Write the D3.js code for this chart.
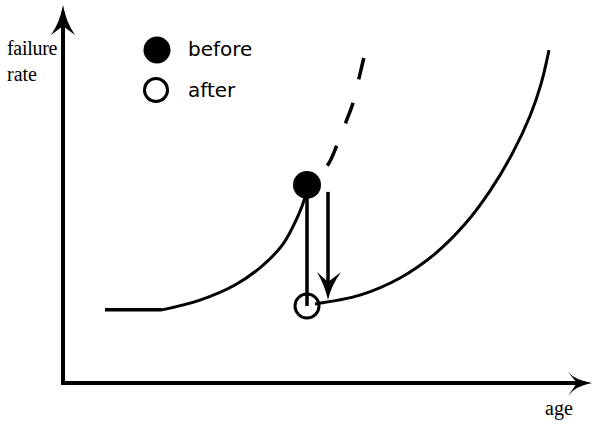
<!DOCTYPE html>
<html><head><meta charset="utf-8">
<script src="https://cdn.jsdelivr.net/npm/d3@7"></script>
<style>body{margin:0;background:#fff}svg{display:block}</style>
</head><body>
<svg id="c" width="594" height="425"></svg>
<script>
// ---- data (age, failure rate) ----
const flatAge = [0.84, 1.98];
const flatRate = [2.09, 2.09];
const beforeAge = [1.98, 2.74, 3.44, 3.98, 4.4, 4.68, 4.84, 4.88];
const beforeRate = [2.09, 2.37, 2.8, 3.34, 3.97, 4.71, 5.31, 5.66];
const dashedAge = [4.88, 5.28, 5.48, 5.66, 5.8, 5.92, 6.02];
const dashedRate = [5.66, 6.2, 6.8, 7.46, 8.0, 8.71, 9.31];
const afterAge = [5.04, 5.94, 6.74, 7.44, 8.04, 8.54, 8.98, 9.34, 9.56, 9.72];
const afterRate = [2.26, 2.51, 3.0, 3.69, 4.54, 5.49, 6.54, 7.63, 8.54, 9.51];
const pmAge = [4.88];
const pmBefore = [5.66];
const pmAfter = [2.2];
const arrowAge = [5.3];
const arrowRate = [5.46, 2.37];
const legendLabels = ["before", "after"];
const axisLabels = ["failure", "rate", "age"];

const svg = d3.select("#c");
const x = d3.scaleLinear().domain([0, 10]).range([63, 563]);
const y = d3.scaleLinear().domain([0, 10]).range([383, 33]);
const pts = (a, r) => a.map((v, i) => [x(v), y(r[i])]);
const line = d3.line().curve(d3.curveCatmullRom.alpha(0.5));

// axes
svg.append("line").attr("x1", x(0)).attr("y1", y(0)).attr("x2", x(0)).attr("y2", 12)
  .attr("stroke", "#000").attr("stroke-width", 4);
svg.append("line").attr("x1", x(0) - 2).attr("y1", y(0)).attr("x2", 585).attr("y2", y(0))
  .attr("stroke", "#000").attr("stroke-width", 4);
// axis arrowheads
svg.append("path").attr("d", `M${x(0)},5 Q${x(0)+3},22 ${x(0)+12},35 L${x(0)},26 L${x(0)-12},35 Q${x(0)-3},22 ${x(0)},5Z`).attr("fill", "#000");
svg.append("path").attr("d", `M592,${y(0)} Q575,${y(0)+3} 568,${y(0)+13} L577,${y(0)} L568,${y(0)-11} Q575,${y(0)-3} 592,${y(0)}Z`).attr("fill", "#000");

// curves
svg.append("path").attr("d", d3.line()(pts(flatAge, flatRate)))
  .attr("fill", "none").attr("stroke", "#000").attr("stroke-width", 3.5);
svg.append("path").attr("d", line(pts(beforeAge, beforeRate)))
  .attr("fill", "none").attr("stroke", "#000").attr("stroke-width", 3);
svg.append("path").attr("d", line(pts(dashedAge, dashedRate)))
  .attr("fill", "none").attr("stroke", "#000").attr("stroke-width", 3.5)
  .attr("stroke-dasharray", "22 24").attr("stroke-dashoffset", 18);
svg.append("path").attr("d", line(pts(afterAge, afterRate)))
  .attr("fill", "none").attr("stroke", "#000").attr("stroke-width", 3);

// PM drop vertical line
svg.append("line").attr("x1", x(pmAge[0])).attr("y1", y(pmBefore[0])).attr("x2", x(pmAge[0])).attr("y2", y(pmAfter[0]))
  .attr("stroke", "#000").attr("stroke-width", 3.5);
// arrow
const ax = x(arrowAge[0]), ay1 = y(arrowRate[0]), ay2 = y(arrowRate[1]);
svg.append("line").attr("x1", ax).attr("y1", ay1).attr("x2", ax).attr("y2", ay2 - 10)
  .attr("stroke", "#000").attr("stroke-width", 3.5);
svg.append("path").attr("d", `M${ax},${ay2} Q${ax-3},${ay2-14} ${ax-11},${ay2-28} L${ax},${ay2-18} L${ax+13},${ay2-28} Q${ax+3},${ay2-14} ${ax},${ay2}Z`).attr("fill", "#000");

// markers
svg.append("circle").attr("cx", x(pmAge[0])).attr("cy", y(pmBefore[0])).attr("r", 14).attr("fill", "#000");
svg.append("circle").attr("cx", x(pmAge[0])).attr("cy", y(pmAfter[0])).attr("r", 12)
  .attr("fill", "none").attr("stroke", "#000").attr("stroke-width", 3);

// legend
svg.append("circle").attr("cx", 157).attr("cy", 50).attr("r", 13.5).attr("fill", "#000");
svg.append("circle").attr("cx", 156).attr("cy", 90).attr("r", 11.5).attr("fill", "none").attr("stroke", "#000").attr("stroke-width", 3);
svg.selectAll("text.leg").data(legendLabels).join("text").attr("class", "leg")
  .attr("x", 188).attr("y", (d, i) => 56 + i * 41)
  .attr("font-family", "DejaVu Sans").attr("font-size", 20).attr("fill", "#000").text(d => d);

// axis labels
const serif = "Liberation Serif";
svg.append("text").attr("x", 7).attr("y", 55).attr("font-family", serif).attr("font-size", 20).attr("letter-spacing", -0.3).text(axisLabels[0]);
svg.append("text").attr("x", 7).attr("y", 81).attr("font-family", serif).attr("font-size", 20).text(axisLabels[1]);
svg.append("text").attr("x", 545).attr("y", 415).attr("font-family", serif).attr("font-size", 20).text(axisLabels[2]);
</script>
</body></html>
